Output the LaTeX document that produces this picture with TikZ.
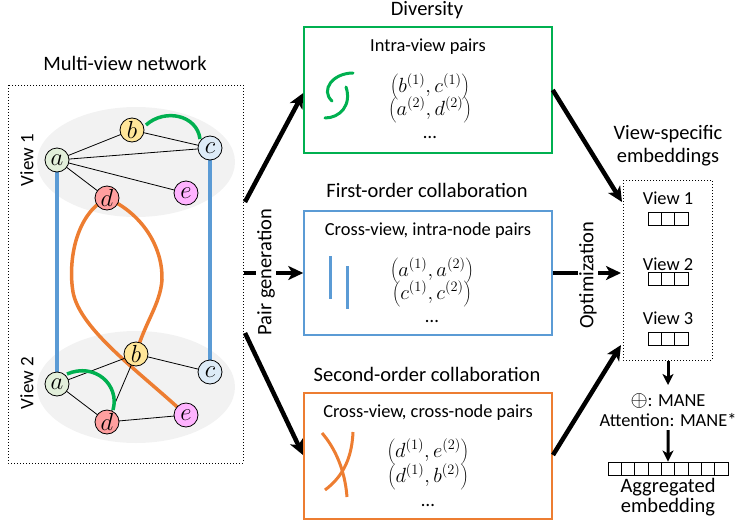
\RequirePackage{fix-cm}
\documentclass[tikz,border=0pt]{standalone}
\usepackage{fontspec}
\usepackage{graphicx}
\setmainfont{Carlito}
\usetikzlibrary{arrows.meta}
\definecolor{cgreen}{HTML}{00B050}
\definecolor{cblue}{HTML}{5B9BD5}
\definecolor{corange}{HTML}{ED7D31}
\definecolor{cellip}{HTML}{F2F2F2}
\definecolor{fa}{HTML}{E2EFDA}
\definecolor{fb}{HTML}{FFE699}
\definecolor{fc}{HTML}{DDEBF7}
\definecolor{fd}{HTML}{FF9F9F}
\definecolor{fe}{HTML}{FFB3FF}
\newcommand{\nl}[1]{\scalebox{1.3}{$#1$}}
\newcommand{\pr}[1]{\scalebox{1.08}{$#1$}}
\begin{document}
\begin{tikzpicture}[x=1pt,y=-1pt,
  gnode/.style={circle,draw,line width=0.8pt,minimum size=24pt,inner sep=0pt,font=\fontsize{19}{19}\selectfont},
  title/.style={anchor=base,font=\fontsize{20.5}{22}\selectfont},
  sub/.style={anchor=base,font=\fontsize{18.4}{20}\selectfont},
  pair/.style={anchor=base,font=\fontsize{19}{22}\selectfont},
  bigarrow/.style={line width=4.5pt,-{Stealth[length=15pt,width=14pt,inset=4pt]}},
  downarrow/.style={line width=3pt,-{Stealth[length=11pt,width=11pt,inset=3pt]}},
  thinedge/.style={line width=0.8pt},
  thick4/.style={line width=3.5pt},
  cell/.style={draw,line width=0.9pt,minimum width=13.33pt,minimum height=13pt,inner sep=0pt},
  dotbox/.style={draw,line width=1pt,dotted}
]
\useasboundingbox (0,0) rectangle (735,530);

% ---------- left panel ----------
\node[title] (tmv) at (125,70) {Multi-view network};
\draw[dotbox] (8,85) rectangle (243,463);
\fill[cellip] (136,162) ellipse [x radius=99, y radius=55];
\fill[cellip] (136,387) ellipse [x radius=99, y radius=56];
\node[rotate=90,font=\fontsize{19}{20}\selectfont] (lv1) at (27,160) {View 1};
\node[rotate=90,font=\fontsize{19}{20}\selectfont] (lv2) at (27,383) {View 2};

\coordinate (a1) at (57,160);
\coordinate (b1) at (132,130);
\coordinate (c1) at (210,148);
\coordinate (d1) at (107,198);
\coordinate (e1) at (186,193);
\coordinate (a2) at (57,384);
\coordinate (b2) at (136,354);
\coordinate (c2) at (210,372);
\coordinate (d2) at (107,422);
\coordinate (e2) at (186,415);

% cross-view lines
\draw[cblue,thick4] (a1) -- (a2);
\draw[cblue,thick4] (c1) -- (c2);
\draw[corange,thick4] (d1) .. controls (75,215) and (68,262) .. (73,292) .. controls (80,330) and (140,372) .. (e2);
\draw[corange,thick4] (d1) .. controls (145,215) and (163,250) .. (162,280) .. controls (160,305) and (145,322) .. (b2);

% intra-view edges
\draw[thinedge] (a1) -- (b1) (a1) -- (c1) (a1) -- (d1) (a1) -- (e1) (b1) -- (c1);
\draw[thinedge] (a2) -- (b2) (a2) -- (d2) (b2) -- (c2) (b2) -- (d2) (d2) -- (e2);
\draw[cgreen,thick4] (146,125) .. controls (165,108) and (197,115) .. (200,139);
\draw[cgreen,thick4] (67,374) .. controls (95,362) and (120,385) .. (113,410);

% nodes
\node[gnode,fill=fa] (na1) at (a1) {\nl{a}};
\node[gnode,fill=fb] (nb1) at (b1) {\nl{b}};
\node[gnode,fill=fc] (nc1) at (c1) {\nl{c}};
\node[gnode,fill=fd] (nd1) at (d1) {\nl{d}};
\node[gnode,fill=fe] (ne1) at (e1) {\nl{e}};
\node[gnode,fill=fa] (na2) at (a2) {\nl{a}};
\node[gnode,fill=fb] (nb2) at (b2) {\nl{b}};
\node[gnode,fill=fc] (nc2) at (c2) {\nl{c}};
\node[gnode,fill=fd] (nd2) at (d2) {\nl{d}};
\node[gnode,fill=fe] (ne2) at (e2) {\nl{e}};

% ---------- middle panels ----------
\node[title] (tdiv) at (427,16) {Diversity};
\node[draw=cgreen,line width=1.5pt,minimum width=248pt,minimum height=126pt,inner sep=0pt] (gbox) at (428,90) {};
\node[sub] (gsub) at (428,51) {Intra-view pairs};
\node[pair] (gp1) at (430,92) {\pr{\left(b^{(1)},c^{(1)}\right)}};
\node[pair] (gp2) at (430,115) {\pr{\left(a^{(2)},d^{(2)}\right)}};
\node[pair] (gp3) at (430,138) {…};
\draw[cgreen,line width=3pt,line cap=round] (353,73) .. controls (333,73) and (320,90) .. (332,101);
\draw[cgreen,line width=3pt,line cap=round] (346,87) .. controls (352,105) and (340,118) .. (325,118);

\node[title] (tfo) at (427,197) {First-order collaboration};
\node[draw=cblue,line width=1.5pt,minimum width=248pt,minimum height=124pt,inner sep=0pt] (bbox) at (428,273) {};
\node[sub] (bsub) at (428,235) {Cross-view, intra-node pairs};
\node[pair] (bp1) at (432,276) {\pr{\left(a^{(1)},a^{(2)}\right)}};
\node[pair] (bp2) at (432,299) {\pr{\left(c^{(1)},c^{(2)}\right)}};
\node[pair] (bp3) at (432,322) {…};
\draw[cblue,line width=3pt] (330,256) -- (330,299);
\draw[cblue,line width=3pt] (347,266) -- (347,309);

\node[title] (tso) at (427,381) {Second-order collaboration};
\node[draw=corange,line width=2pt,minimum width=248pt,minimum height=126pt,inner sep=0pt] (obox) at (428,456) {};
\node[sub] (osub) at (428,417) {Cross-view, cross-node pairs};
\node[pair] (op1) at (428,457) {\pr{\left(d^{(1)},e^{(2)}\right)}};
\node[pair] (op2) at (428,482) {\pr{\left(d^{(1)},b^{(2)}\right)}};
\node[pair] (op3) at (428,506) {…};
\draw[corange,line width=3pt] (322,433) .. controls (335,448) and (345,470) .. (347,497);
\draw[corange,line width=3pt] (353,432) .. controls (352,455) and (345,475) .. (325,490);

% ---------- right panel ----------
\node[title] (tvs1) at (668,139) {View-specific};
\node[title] (tvs2) at (668,162) {embeddings};
\draw[dotbox] (623,180) rectangle (712,360);
\coordinate (rbtop) at (668,180);
\coordinate (rbbot) at (668,361);
\node[sub] (rv1) at (668,204) {View 1};
\node[sub] (rv2) at (668,270) {View 2};
\node[sub] (rv3) at (668,324) {View 3};
\foreach \y/\n in {218.5/1,278.5/2,338.5/3}{
  \foreach \i in {0,1,2}{
    \node[cell] (v\n c\i) at (654.67+13.33*\i,\y) {};
  }
}
\node[sub] (mane) at (668,406) {\scalebox{1.2}{$\oplus$}: MANE};
\node[sub] (att) at (668,426) {Attention: MANE*};
\coordinate (att2) at (668,430);
\foreach \i in {0,...,8}{
  \node[cell] (ag\i) at (614.67+13.33*\i,468.5) {};
}
\node[title] (agg1) at (668,492) {Aggregated};
\node[title] (agg2) at (668,512) {embedding};
\draw[downarrow] (rbbot) -- (668,385);
\draw[downarrow] (att2) -- (ag4.north);

% ---------- big arrows ----------
\coordinate (s1) at (245,202);
\coordinate (s2) at (244,273);
\coordinate (s3) at (245,333);
\draw[bigarrow] (s1) -- (gbox.west |- 0,93);
\draw[bigarrow] (s2) -- (bbox.west |- 0,273);
\draw[bigarrow] (s3) -- (obox.west |- 0,455);
\node[rotate=90,fill=white,inner sep=1pt,font=\fontsize{20.5}{22}\selectfont] (pg) at (266,272) {Pair generation};

\coordinate (t1) at (622,202);
\coordinate (t2) at (621,273);
\coordinate (t3) at (621,345);
\draw[bigarrow] (gbox.east |- 0,90) -- (t1);
\draw[bigarrow] (bbox.east |- 0,273) -- (t2);
\draw[bigarrow] (obox.east |- 0,455) -- (t3);
\node[rotate=90,fill=white,inner sep=1pt,font=\fontsize{20.5}{22}\selectfont] (opt) at (588,275) {Optimization};
\end{tikzpicture}
\end{document}
